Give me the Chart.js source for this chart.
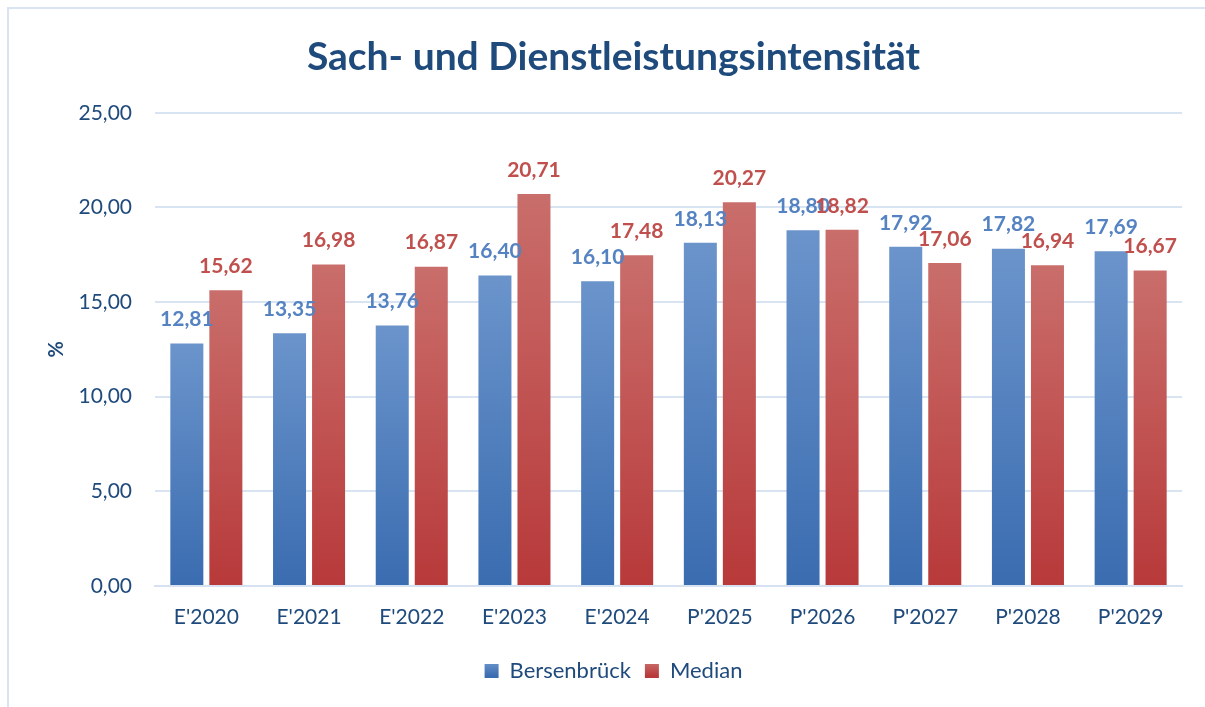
<!DOCTYPE html>
<html>
<head>
<meta charset="utf-8">
<script src="https://cdn.jsdelivr.net/npm/chart.js@4/dist/chart.umd.min.js"></script>
<style>
  html, body { margin: 0; padding: 0; background: #fff; overflow: hidden; }
  #frame { position: absolute; left: 7px; top: 7px; width: 1210px; height: 710px; border: 2px solid #dae3f3; box-sizing: border-box; }
  #wrap { position: absolute; left: 0; top: 0; width: 1205px; height: 707px; }
</style>
</head>
<body>
<div id="frame"></div>
<div id="wrap"><canvas id="barChart"></canvas></div>
<script>
const kategorien = ["E'2020", "E'2021", "E'2022", "E'2023", "E'2024", "P'2025", "P'2026", "P'2027", "P'2028", "P'2029"];
const bersenbrueck = [12.81, 13.35, 13.76, 16.40, 16.10, 18.13, 18.80, 17.92, 17.82, 17.69];
const median = [15.62, 16.98, 16.87, 20.71, 17.48, 20.27, 18.82, 17.06, 16.94, 16.67];
const yTicks = [0, 5, 10, 15, 20, 25];

const dunkelblau = '#1f4a7c';
const FONT = 'Lato, "Open Sans", sans-serif';

function formatDe(v) {
    return v.toFixed(2).replace('.', ',');
}

// Verlauf pro Balken: oben heller, unten dunkler
function balkenVerlauf(oben, unten) {
    return (context) => {
        const chart = context.chart;
        const yScale = chart.scales.y;
        if (!chart.chartArea || !yScale || context.raw === undefined) return unten;
        const top = yScale.getPixelForValue(context.raw);
        const bottom = yScale.getPixelForValue(0);
        if (!isFinite(top) || !isFinite(bottom) || top === bottom) return unten;
        const g = chart.ctx.createLinearGradient(0, top, 0, bottom);
        g.addColorStop(0, oben);
        g.addColorStop(1, unten);
        return g;
    };
}

function legendeVerlauf(ctx, oben, unten) {
    const g = ctx.createLinearGradient(0, 662, 0, 676);
    g.addColorStop(0, oben);
    g.addColorStop(1, unten);
    return g;
}

const wertLabels = {
    id: 'wertLabels',
    afterDatasetsDraw(chart) {
        const ctx = chart.ctx;
        ctx.save();
        ctx.font = 'bold 21px ' + FONT;
        ctx.textAlign = 'center';
        ctx.textBaseline = 'middle';
        chart.data.datasets.forEach((ds, i) => {
            const meta = chart.getDatasetMeta(i);
            ctx.fillStyle = ds.labelColor;
            meta.data.forEach((bar, j) => {
                ctx.fillText(formatDe(ds.data[j]), bar.x, bar.y - 24);
            });
        });
        ctx.restore();
    }
};

const canvas = document.getElementById('barChart');
const c2d = canvas.getContext('2d');

new Chart(c2d, {
    type: 'bar',
    data: {
        labels: kategorien,
        datasets: [
            { label: 'Bersenbrück', data: bersenbrueck, backgroundColor: balkenVerlauf('#6b94cb', '#3a6cb0'), labelColor: '#5583c2', barPercentage: 0.846, categoryPercentage: 0.76 },
            { label: 'Median', data: median, backgroundColor: balkenVerlauf('#c96e6b', '#b8393a'), labelColor: '#c0504d', barPercentage: 0.846, categoryPercentage: 0.76 }
        ]
    },
    options: {
        responsive: true,
        maintainAspectRatio: false,
        animation: false,
        layout: { padding: { left: 45, right: 23, top: 16, bottom: 15 } },
        plugins: {
            title: {
                display: true,
                text: 'Sach- und Dienstleistungsintensität',
                color: dunkelblau,
                font: { family: FONT, size: 39, weight: 'bold' },
                padding: { top: 18, bottom: 32 }
            },
            legend: {
                position: 'bottom',
                labels: {
                    color: dunkelblau,
                    font: { family: FONT, size: 22 },
                    boxWidth: 14,
                    boxHeight: 14,
                    padding: 14,
                    generateLabels: (chart) => [
                        { text: 'Bersenbrück', fillStyle: legendeVerlauf(chart.ctx, '#6b94cb', '#3a6cb0'), strokeStyle: 'transparent', lineWidth: 0, fontColor: dunkelblau, datasetIndex: 0 },
                        { text: 'Median', fillStyle: legendeVerlauf(chart.ctx, '#c96e6b', '#b8393a'), strokeStyle: 'transparent', lineWidth: 0, fontColor: dunkelblau, datasetIndex: 1 }
                    ]
                }
            },
            tooltip: { enabled: false }
        },
        scales: {
            x: {
                grid: { display: false },
                border: { display: true, color: '#d6e1f1', width: 2 },
                ticks: { color: dunkelblau, font: { family: FONT, size: 21 }, padding: 11 },
                afterFit: (scale) => { scale.height = 60; }
            },
            y: {
                min: 0,
                max: 25,
                afterBuildTicks: (scale) => { scale.ticks = yTicks.map(v => ({ value: v })); },
                grid: { color: '#d9e4f2', lineWidth: 2, drawTicks: false },
                border: { display: false },
                ticks: { color: dunkelblau, font: { family: FONT, size: 21 }, padding: 23, callback: (v) => formatDe(v) },
                title: { display: true, text: '%', color: dunkelblau, font: { family: FONT, size: 20, weight: 'bold' }, padding: 0 },
                afterFit: (scale) => { scale.width = 110; }
            }
        }
    },
    plugins: [wertLabels]
});
</script>
</body>
</html>
